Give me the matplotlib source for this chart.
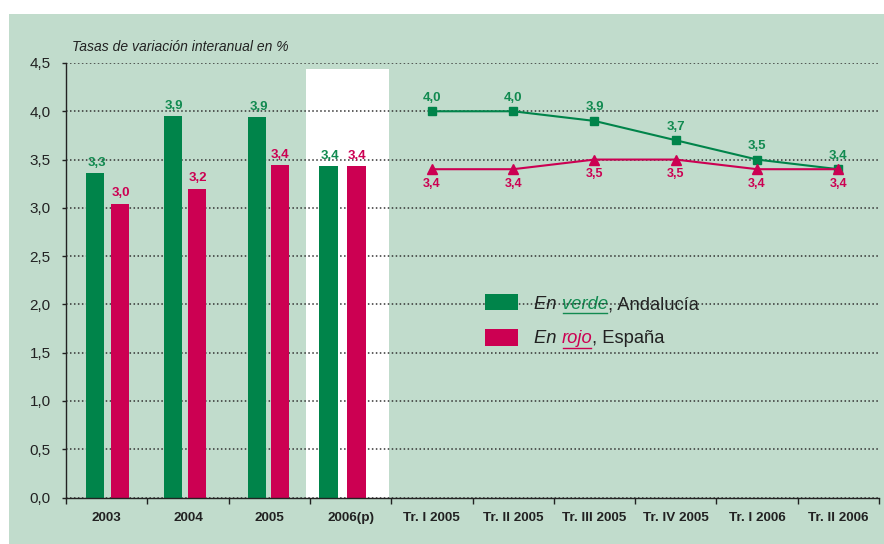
import matplotlib
matplotlib.use("Agg")
import matplotlib.pyplot as plt
from matplotlib.patches import Rectangle
from matplotlib.lines import Line2D
import numpy as np

plt.rcParams["font.family"] = ["Liberation Sans", "DejaVu Sans"]

# ---------------- data ----------------
categories = ["2003", "2004", "2005", "2006(p)",
              "Tr. I 2005", "Tr. II 2005", "Tr. III 2005", "Tr. IV 2005",
              "Tr. I 2006", "Tr. II 2006"]
bar_andalucia = [3.36, 3.95, 3.94, 3.43]
bar_espana = [3.04, 3.20, 3.44, 3.43]
bar_andalucia_labels = ["3,3", "3,9", "3,9", "3,4"]
bar_espana_labels = ["3,0", "3,2", "3,4", "3,4"]
line_andalucia = [4.0, 4.0, 3.9, 3.7, 3.5, 3.4]
line_espana = [3.4, 3.4, 3.5, 3.5, 3.4, 3.4]
line_andalucia_labels = ["4,0", "4,0", "3,9", "3,7", "3,5", "3,4"]
line_espana_labels = ["3,4", "3,4", "3,5", "3,5", "3,4", "3,4"]
yticks = [0.0, 0.5, 1.0, 1.5, 2.0, 2.5, 3.0, 3.5, 4.0, 4.5]
ytick_labels = ["0,0", "0,5", "1,0", "1,5", "2,0", "2,5", "3,0", "3,5", "4,0", "4,5"]

# ---------------- style ----------------
GREEN = "#00844a"
GREEN_TXT = "#118a50"
RED = "#cc0052"
BG = "#c1dccc"
DARK = "#222222"
green_off = [-0.141, -0.185, -0.148, -0.271]
red_off = [0.166, 0.111, 0.129, 0.074]
bar_w = 0.225

fig = plt.figure(figsize=(8.84, 5.44), dpi=100)
fig.patch.set_facecolor("white")
fig.patches.append(Rectangle((9 / 884, 0), 1, (544 - 14) / 544,
                             transform=fig.transFigure, facecolor=BG,
                             edgecolor="none", zorder=-10))

ax = fig.add_axes([66 / 884, 46.5 / 544, 813 / 884, 434.5 / 544])
ax.set_facecolor("none")
ax.set_xlim(0, len(categories))
ax.set_ylim(0, 4.5)

# white highlight for forecast year
ax.add_patch(Rectangle((2.95, 0), 1.02, 4.44, facecolor="white",
                       edgecolor="none", zorder=0.1))

# grid
ax.set_axisbelow(True)
ax.set_yticks(yticks)
ax.set_yticklabels(ytick_labels)
ax.yaxis.grid(True, color="#333333", linestyle=(0, (1, 1.6)), linewidth=1.1)

# bars
n_bars = len(bar_andalucia)
bx = np.arange(n_bars) + 0.5
gx = bx + np.array(green_off)
rx = bx + np.array(red_off)
ax.bar(gx, bar_andalucia, width=bar_w, color=GREEN, zorder=2)
ax.bar(rx, bar_espana, width=bar_w, color=RED, zorder=2)
VFS = 9.5
for x, v, t in zip(gx, bar_andalucia, bar_andalucia_labels):
    ax.annotate(t, (x, v), xytext=(1, 5.4), textcoords="offset points",
                ha="center", va="baseline", fontsize=VFS, fontweight="bold",
                color=GREEN_TXT, zorder=3)
for x, v, t in zip(rx, bar_espana, bar_espana_labels):
    ax.annotate(t, (x, v), xytext=(0.5, 5.4), textcoords="offset points",
                ha="center", va="baseline", fontsize=VFS, fontweight="bold",
                color=RED, zorder=3)

# lines
lx = np.arange(len(line_andalucia)) + n_bars + 0.5
ax.plot(lx, line_andalucia, color=GREEN, lw=1.5, marker="s", ms=6,
        zorder=4, clip_on=False)
ax.plot(lx, line_espana, color=RED, lw=1.5, marker="^", ms=7.5,
        zorder=4, clip_on=False)
for x, v, t in zip(lx, line_andalucia, line_andalucia_labels):
    ax.annotate(t, (x, v), xytext=(0, 7.6), textcoords="offset points",
                ha="center", va="baseline", fontsize=VFS, fontweight="bold",
                color=GREEN_TXT, zorder=5)
for x, v, t in zip(lx, line_espana, line_espana_labels):
    ax.annotate(t, (x, v), xytext=(0, -12.5), textcoords="offset points",
                ha="center", va="baseline", fontsize=9, fontweight="bold",
                color=RED, zorder=5)

# axes styling
for s in ["top", "right"]:
    ax.spines[s].set_visible(False)
for s in ["left", "bottom"]:
    ax.spines[s].set_color(DARK)
    ax.spines[s].set_linewidth(1.0)
ax.tick_params(axis="y", direction="out", length=3, width=1, color=DARK,
               pad=8, labelsize=11, labelcolor=DARK)
ax.set_xticks(np.arange(len(categories) + 1))
ax.set_xticklabels([])
ax.tick_params(axis="x", which="major", direction="out", length=4, width=1,
               color=DARK)
ax.set_xticks(np.arange(len(categories)) + 0.5, minor=True)
ax.set_xticklabels(categories, minor=True)
ax.tick_params(axis="x", which="minor", length=0, pad=10.5)
for lab in ax.get_xticklabels(minor=True):
    lab.set_family(["Liberation Sans Narrow", "Liberation Sans", "DejaVu Sans"])
    lab.set_fontweight("bold")
    lab.set_fontsize(9.7)
    lab.set_color(DARK)

# title
fig.text(72 / 884, (544 - 47) / 544, "Tasas de variación interanual en %",
         ha="left", va="center", fontsize=10, style="italic", color=DARK)

# legend (custom)
ax.add_patch(Rectangle((0.515, 0.4315), 0.0406, 0.0368, transform=ax.transAxes,
                       facecolor=GREEN, edgecolor="none", zorder=6))
ax.add_patch(Rectangle((0.515, 0.3487), 0.0406, 0.039, transform=ax.transAxes,
                       facecolor=RED, edgecolor="none", zorder=6))

LFS = 13.2


def chain(pieces, x0, y0):
    texts = []
    prev = None
    for txt, color, style in pieces:
        if prev is None:
            t = ax.text(x0, y0, txt, transform=ax.transAxes, ha="left",
                        va="baseline", fontsize=LFS, color=color, style=style,
                        zorder=0.3)
        else:
            t = ax.annotate(txt, xy=(1, 0), xycoords=prev, xytext=(0, 0),
                            textcoords="offset points", ha="left",
                            va="bottom", fontsize=LFS, color=color,
                            style=style, zorder=0.3)
        texts.append(t)
        prev = t
    return texts


g_texts = chain([("En ", DARK, "italic"), ("verde", GREEN_TXT, "italic"),
                 (", Andalucía", DARK, "normal")], 0.5756, 0.433)
r_texts = chain([("En ", DARK, "italic"), ("rojo", RED, "italic"),
                 (", España", DARK, "normal")], 0.5756, 0.356)

fig.canvas.draw()
r = fig.canvas.get_renderer()
H = 544.0
for t, col, ypix in [(g_texts[1], GREEN_TXT, 313.3), (r_texts[1], RED, 347.7)]:
    bb = t.get_window_extent(r)
    yfig = (H - ypix) / H
    fig.add_artist(Line2D([(bb.x0 + 1) / 884, (bb.x1 - 1) / 884], [yfig, yfig],
                          transform=fig.transFigure, color=col, lw=1.0))

fig.savefig("out.png", dpi=100, facecolor=fig.get_facecolor())
